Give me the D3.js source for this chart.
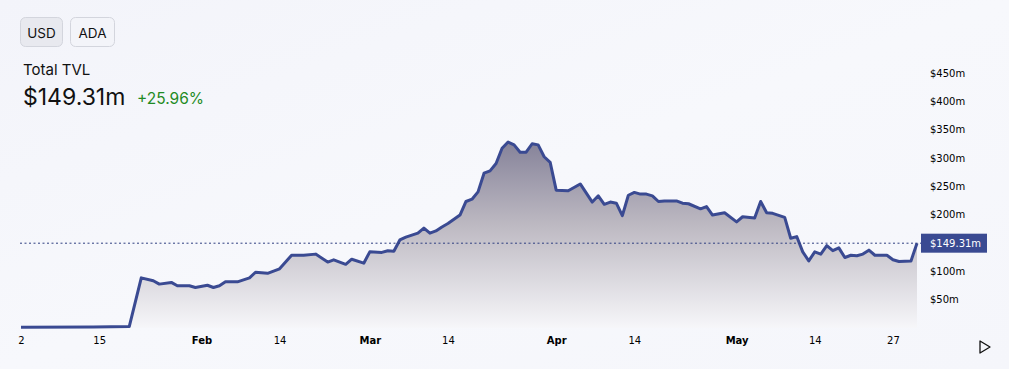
<!DOCTYPE html>
<html>
<head>
<meta charset="utf-8">
<script src="https://cdn.jsdelivr.net/npm/d3@7"></script>
<style>
  body { margin: 0; background: #f6f7fb; font-family: Inter, "Noto Sans", sans-serif; }
  #chart { position: relative; width: 1009px; height: 369px; overflow: hidden; }
  .axis text { font-family: "DejaVu Sans", sans-serif; font-size: 10px; fill: #000; }
  .axis .domain { display: none; }
</style>
</head>
<body>
<div id="chart"></div>
<script>
// TVL series (USD millions)
const dates = [
  '2025-01-02', '2025-01-14', '2025-01-20', '2025-01-22', '2025-01-24', '2025-01-25', '2025-01-27', '2025-01-28',
  '2025-01-30', '2025-01-31', '2025-02-02', '2025-02-03', '2025-02-04', '2025-02-05', '2025-02-07', '2025-02-09',
  '2025-02-10', '2025-02-12', '2025-02-14', '2025-02-16', '2025-02-18', '2025-02-20', '2025-02-22', '2025-02-23',
  '2025-02-25', '2025-02-26', '2025-02-28', '2025-03-01', '2025-03-03', '2025-03-04', '2025-03-05', '2025-03-06',
  '2025-03-07', '2025-03-09', '2025-03-10', '2025-03-11', '2025-03-12', '2025-03-13', '2025-03-14', '2025-03-16',
  '2025-03-17', '2025-03-18', '2025-03-19', '2025-03-20', '2025-03-21', '2025-03-22', '2025-03-23', '2025-03-24',
  '2025-03-25', '2025-03-26', '2025-03-27', '2025-03-28', '2025-03-29', '2025-03-30', '2025-03-31', '2025-04-01',
  '2025-04-03', '2025-04-05', '2025-04-07', '2025-04-08', '2025-04-09', '2025-04-10', '2025-04-11', '2025-04-12',
  '2025-04-13', '2025-04-14', '2025-04-15', '2025-04-16', '2025-04-17', '2025-04-18', '2025-04-19', '2025-04-21',
  '2025-04-22', '2025-04-23', '2025-04-25', '2025-04-26', '2025-04-27', '2025-04-29', '2025-05-01', '2025-05-02',
  '2025-05-04', '2025-05-05', '2025-05-06', '2025-05-07', '2025-05-09', '2025-05-10', '2025-05-11', '2025-05-12',
  '2025-05-13', '2025-05-14', '2025-05-15', '2025-05-16', '2025-05-17', '2025-05-18', '2025-05-19', '2025-05-20',
  '2025-05-21', '2025-05-22', '2025-05-23', '2025-05-24', '2025-05-26', '2025-05-27', '2025-05-28', '2025-05-30',
  '2025-05-31'
];
const tvl = [
  0.8, 1.2, 2, 88, 83, 77, 80, 74,
  74, 71, 75, 71, 74, 81, 81, 88,
  98, 96, 104, 128, 128, 130, 116, 120,
  112, 121, 114, 134, 133, 136, 135, 155,
  160, 167, 176, 167, 171, 178, 184, 199,
  223, 227, 240, 273, 277, 290, 317, 328,
  323, 310, 310, 325, 323, 302, 292, 243,
  242, 254, 222, 233, 218, 222, 220, 198,
  234, 239, 236, 236, 233, 223, 224, 224,
  220, 219, 210, 214, 199, 203, 187, 196,
  194, 223, 203, 202, 195, 158, 161, 134,
  118, 134, 130, 145, 136, 141, 124, 128,
  127, 130, 137, 128, 128, 120, 117, 118,
  149.31
];
const yTicks = [50, 100, 150, 200, 250, 300, 350, 400, 450];
const xTickDates = ['2025-01-02', '2025-01-15', '2025-02-01', '2025-02-14', '2025-03-01', '2025-03-14',
  '2025-04-01', '2025-04-14', '2025-05-01', '2025-05-14', '2025-05-27'];
const currencies = ['USD', 'ADA'];
const title = 'Total TVL';
const currentValue = 149.31;
const change = '+25.96%';

const width = 1009;
const height = 369;
const parse = d3.timeParse('%Y-%m-%d');
const data = dates.map((d, i) => ({ date: parse(d), value: tvl[i] }));

const svg = d3.select('#chart').append('svg')
  .attr('width', width)
  .attr('height', height);

// background with a soft light sweep
const defs = svg.append('defs');
const bg = defs.append('linearGradient')
  .attr('id', 'bgGrad')
  .attr('x1', 0).attr('y1', 0).attr('x2', 1).attr('y2', 1);
bg.append('stop').attr('offset', '0%').attr('stop-color', '#f3f4fa');
bg.append('stop').attr('offset', '50%').attr('stop-color', '#f7f8fc');
bg.append('stop').attr('offset', '100%').attr('stop-color', '#f5f6fb');
svg.append('rect').attr('width', width).attr('height', height).attr('fill', 'url(#bgGrad)');

const x = d3.scaleTime()
  .domain([parse('2025-01-02'), parse('2025-05-31')])
  .range([21, 917]);

const y = d3.scaleLinear()
  .domain([0, 450])
  .range([327.7, 73]);

// area fill gradient
const areaGrad = defs.append('linearGradient')
  .attr('id', 'areaGrad')
  .attr('gradientUnits', 'userSpaceOnUse')
  .attr('x1', 0).attr('y1', y(330))
  .attr('x2', 0).attr('y2', y(0));
areaGrad.append('stop').attr('offset', '0%').attr('stop-color', '#858299');
areaGrad.append('stop').attr('offset', '45%').attr('stop-color', '#bdb9c2');
areaGrad.append('stop').attr('offset', '100%').attr('stop-color', '#f6f6f9');

const area = d3.area()
  .x(d => x(d.date))
  .y0(y(0))
  .y1(d => y(d.value));

const line = d3.line()
  .x(d => x(d.date))
  .y(d => y(d.value));

svg.append('path')
  .datum(data)
  .attr('d', area)
  .attr('fill', 'url(#areaGrad)');

svg.append('path')
  .datum(data)
  .attr('d', line)
  .attr('fill', 'none')
  .attr('stroke', '#3a4a92')
  .attr('stroke-width', 3)
  .attr('stroke-linejoin', 'round');

// current value dotted guide
svg.append('line')
  .attr('x1', 20)
  .attr('x2', 921)
  .attr('y1', y(currentValue))
  .attr('y2', y(currentValue))
  .attr('stroke', '#2e3d80')
  .attr('stroke-width', 1)
  .attr('stroke-dasharray', '2,2.5');

// y axis on the right
svg.append('g')
  .attr('class', 'axis')
  .attr('transform', 'translate(926, 0)')
  .call(d3.axisRight(y).tickValues(yTicks.filter(v => v !== 150)).tickSize(0).tickPadding(4)
    .tickFormat(d => `$${d}m`));

// current value tag
const tag = svg.append('g').attr('transform', `translate(921, ${y(currentValue)})`);
tag.append('rect')
  .attr('x', 0).attr('y', -9.5)
  .attr('width', 66).attr('height', 19)
  .attr('fill', '#3a4a92');
tag.append('text')
  .attr('x', 9).attr('y', 0).attr('dy', '0.35em')
  .style('font-family', '"DejaVu Sans", sans-serif')
  .style('font-size', '10px')
  .attr('fill', '#fff')
  .text(`$${currentValue}m`);

// x axis
const xAxis = svg.append('g')
  .attr('class', 'axis')
  .attr('transform', 'translate(0, 334)')
  .call(d3.axisBottom(x).tickValues(xTickDates.map(parse)).tickSize(0).tickPadding(3)
    .tickFormat(d => d.getDate() === 1 ? d3.timeFormat('%b')(d) : d3.timeFormat('%-d')(d)));
xAxis.selectAll('text')
  .style('font-weight', d => d.getDate() === 1 ? 'bold' : 'normal');

// play button
svg.append('path')
  .attr('d', 'M980,341L980,353L990,347Z')
  .attr('fill', 'none')
  .attr('stroke', '#111')
  .attr('stroke-width', 1.3)
  .attr('stroke-linejoin', 'round');

// currency toggle buttons
const btnX = [20, 70];
const btnW = [42, 44];
const btns = svg.selectAll('g.btn')
  .data(currencies)
  .enter().append('g')
  .attr('class', 'btn')
  .attr('transform', (d, i) => `translate(${btnX[i]}, 17)`);
btns.append('rect')
  .attr('x', 0.5).attr('y', 0.5)
  .attr('width', (d, i) => btnW[i]).attr('height', 29)
  .attr('rx', 5)
  .attr('fill', (d, i) => i === 0 ? '#e8e9ef' : '#f3f4f9')
  .attr('stroke', '#d3d5dd');
btns.append('text')
  .attr('x', (d, i) => btnW[i] / 2 + 0.5)
  .attr('y', 16)
  .attr('dy', '0.35em')
  .style('text-anchor', 'middle')
  .style('font-size', '13.5px')
  .attr('fill', '#111')
  .text(d => d);

// header texts
svg.append('text')
  .attr('x', 23).attr('y', 75)
  .style('font-size', '15px')
  .attr('fill', '#111')
  .text(title);

svg.append('text')
  .attr('x', 23).attr('y', 105)
  .style('font-size', '23px')
  .attr('fill', '#111')
  .text(`$${currentValue}m`);

svg.append('text')
  .attr('x', 137).attr('y', 104)
  .style('font-size', '15.5px')
  .attr('fill', '#1f8b24')
  .text(change);
</script>
</body>
</html>
